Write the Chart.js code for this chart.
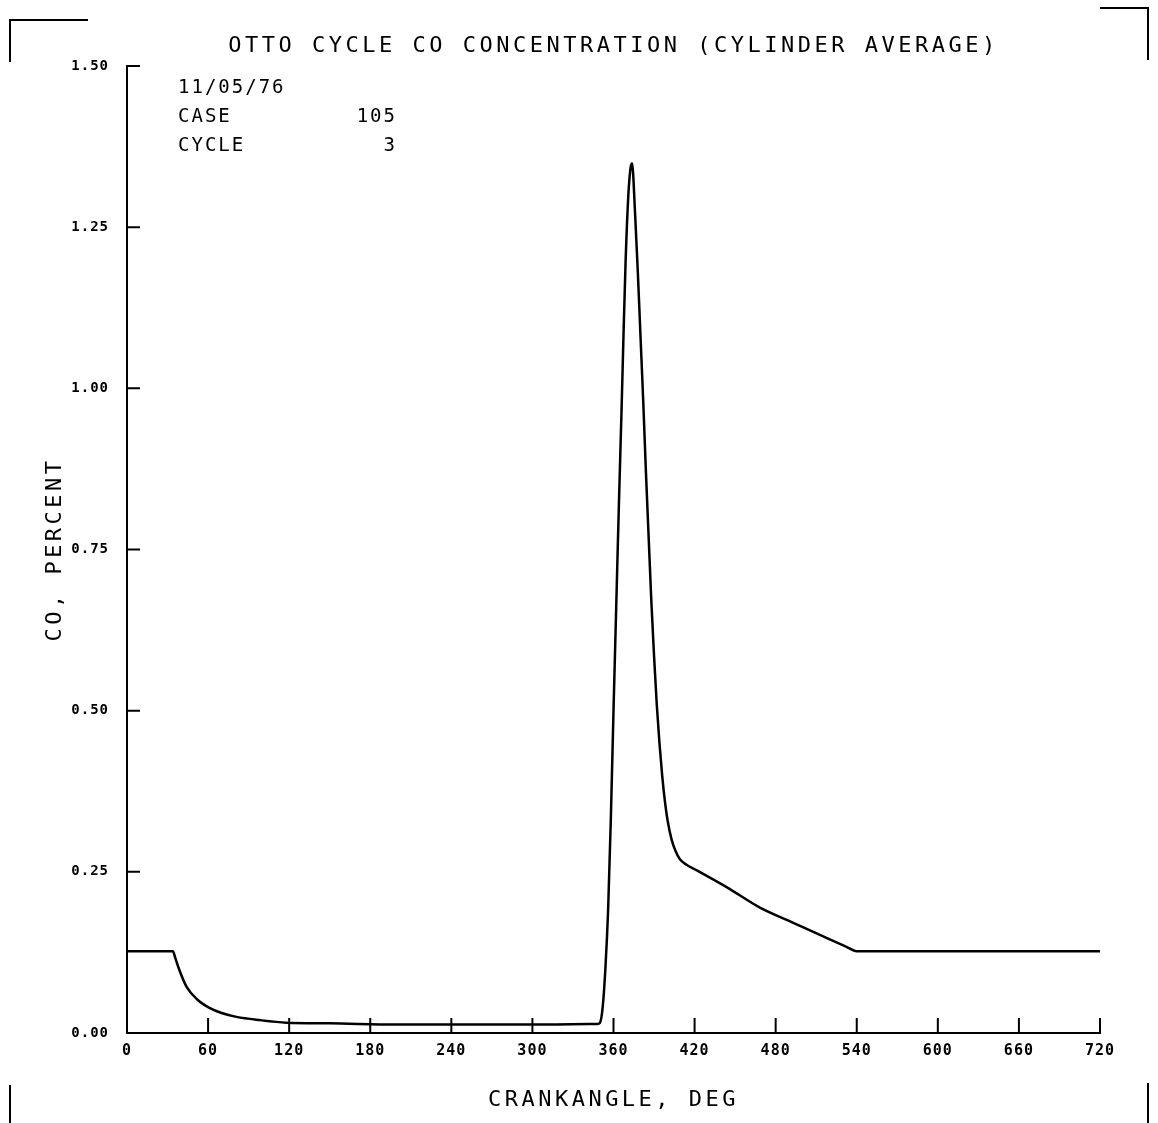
<!doctype html>
<html lang="en">

<head>
  <meta charset="utf-8">
  <title>Otto cycle CO concentration</title>
  <script src="https://cdn.jsdelivr.net/npm/chart.js"></script>
  <style>
    body { margin: 0; background: #fff; }
    canvas { display: block; }
  </style>
</head>

<body>
  <canvas id="myChart" width="1158" height="1123"></canvas>
  <script>
    // crank angle (deg) and cylinder-average CO (percent)
    const crankAngle = [0, 20, 34, 35.5, 38, 44, 52, 61, 70, 81, 98, 118, 150, 200, 250, 300, 348,
      350, 352, 354, 356, 358, 360, 362, 364, 366, 367.5, 369, 371, 372.5, 373.7,
      376, 378, 380, 382, 384, 386, 388, 390, 392, 394, 396, 398, 400, 403, 406, 409, 414, 422,
      444, 468, 493, 518, 532, 540, 600, 660, 720];
    const coPercent = [0.127, 0.127, 0.127, 0.118, 0.102, 0.072, 0.052, 0.039, 0.031, 0.025, 0.020, 0.016, 0.015, 0.013, 0.013, 0.013, 0.014,
      0.016, 0.04, 0.10, 0.19, 0.33, 0.50, 0.66, 0.82, 0.97, 1.09, 1.20, 1.30, 1.34, 1.349,
      1.27, 1.18, 1.08, 0.98, 0.87, 0.77, 0.67, 0.585, 0.51, 0.45, 0.40, 0.36, 0.33, 0.30, 0.282, 0.270, 0.261, 0.252,
      0.226, 0.195, 0.171, 0.147, 0.134, 0.127, 0.127, 0.127, 0.127];

    const xTicks = [0, 60, 120, 180, 240, 300, 360, 420, 480, 540, 600, 660, 720];
    const yTicks = [0, 0.25, 0.5, 0.75, 1.0, 1.25, 1.5];

    const chartTitle = 'OTTO CYCLE CO CONCENTRATION (CYLINDER AVERAGE)';
    const xTitle = 'CRANKANGLE, DEG';
    const yTitle = 'CO, PERCENT';
    const runDate = '11/05/76';
    const caseNo = '105';
    const cycleNo = '3';

    const mono = '"DejaVu Sans Mono", "Liberation Mono", monospace';

    // plotter style: inward ticks, crop marks, headings
    const plotterDecor = {
      id: 'plotterDecor',
      beforeDraw(chart) {
        chart.ctx.letterSpacing = '1px';
      },
      afterDraw(chart) {
        const ctx = chart.ctx;
        const xs = chart.scales.x, ys = chart.scales.y;
        const area = chart.chartArea;
        ctx.save();
        ctx.strokeStyle = '#000';
        ctx.lineWidth = 2;
        ctx.beginPath();
        xTicks.forEach(v => {
          const px = xs.getPixelForValue(v);
          ctx.moveTo(px, area.bottom);
          ctx.lineTo(px, area.bottom - 15);
        });
        yTicks.forEach(v => {
          const py = ys.getPixelForValue(v);
          ctx.moveTo(area.left, py);
          ctx.lineTo(area.left + 13, py);
        });
        ctx.stroke();

        // corner crop marks
        ctx.lineWidth = 2;
        ctx.beginPath();
        ctx.moveTo(10, 62); ctx.lineTo(10, 20); ctx.lineTo(88, 20);
        ctx.moveTo(1100, 8); ctx.lineTo(1148, 8); ctx.lineTo(1148, 60);
        ctx.moveTo(10, 1085); ctx.lineTo(10, 1123);
        ctx.moveTo(1148, 1083); ctx.lineTo(1148, 1123);
        ctx.stroke();

        ctx.fillStyle = '#000';
        ctx.textBaseline = 'middle';
        ctx.font = '22px ' + mono;
        ctx.letterSpacing = '3.5px';
        ctx.textAlign = 'center';
        ctx.fillText(chartTitle, (area.left + area.right) / 2, 46);
        ctx.fillText(xTitle, (area.left + area.right) / 2, 1100);
        ctx.save();
        ctx.translate(55, (area.top + area.bottom) / 2);
        ctx.rotate(-Math.PI / 2);
        ctx.fillText(yTitle, 0, 0);
        ctx.restore();

        ctx.font = '19px ' + mono;
        ctx.letterSpacing = '2px';
        ctx.textAlign = 'left';
        ctx.fillText(runDate, 178, 88);
        ctx.fillText('CASE', 178, 117);
        ctx.fillText('CYCLE', 178, 146);
        ctx.textAlign = 'right';
        ctx.fillText(caseNo, 397, 117);
        ctx.fillText(cycleNo, 397, 146);
        ctx.restore();
      }
    };

    const ctx = document.getElementById('myChart').getContext('2d');
    const chart = new Chart(ctx, {
      type: 'line',
      data: {
        datasets: [{
          data: crankAngle.map((x, i) => ({ x: x, y: coPercent[i] })),
          borderColor: '#000',
          borderWidth: 2.5,
          pointRadius: 0,
          cubicInterpolationMode: 'monotone',
          fill: false
        }]
      },
      options: {
        responsive: false,
        animation: false,
        layout: { padding: { top: 66, right: 58, left: 0, bottom: 0 } },
        plugins: {
          legend: { display: false },
          title: { display: false },
          tooltip: { enabled: false }
        },
        scales: {
          x: {
            type: 'linear',
            min: 0,
            max: 720,
            afterFit(scale) { scale.height = 90; },
            afterBuildTicks(scale) { scale.ticks = xTicks.map(v => ({ value: v })); },
            grid: { drawOnChartArea: false, drawTicks: false },
            border: { display: true, color: '#000', width: 2 },
            ticks: {
              maxRotation: 0,
              padding: 9,
              color: '#000',
              font: { family: mono, size: 15, weight: 'bold' },
              callback: v => String(v)
            }
          },
          y: {
            min: 0,
            max: 1.5,
            afterFit(scale) { scale.width = 127; },
            afterBuildTicks(scale) { scale.ticks = yTicks.map(v => ({ value: v })); },
            grid: { drawOnChartArea: false, drawTicks: false },
            border: { display: true, color: '#000', width: 2 },
            ticks: {
              padding: 18,
              color: '#000',
              font: { family: mono, size: 14, weight: 'bold' },
              callback: v => Number(v).toFixed(2)
            }
          }
        }
      },
      plugins: [plotterDecor]
    });
  </script>
</body>

</html>
